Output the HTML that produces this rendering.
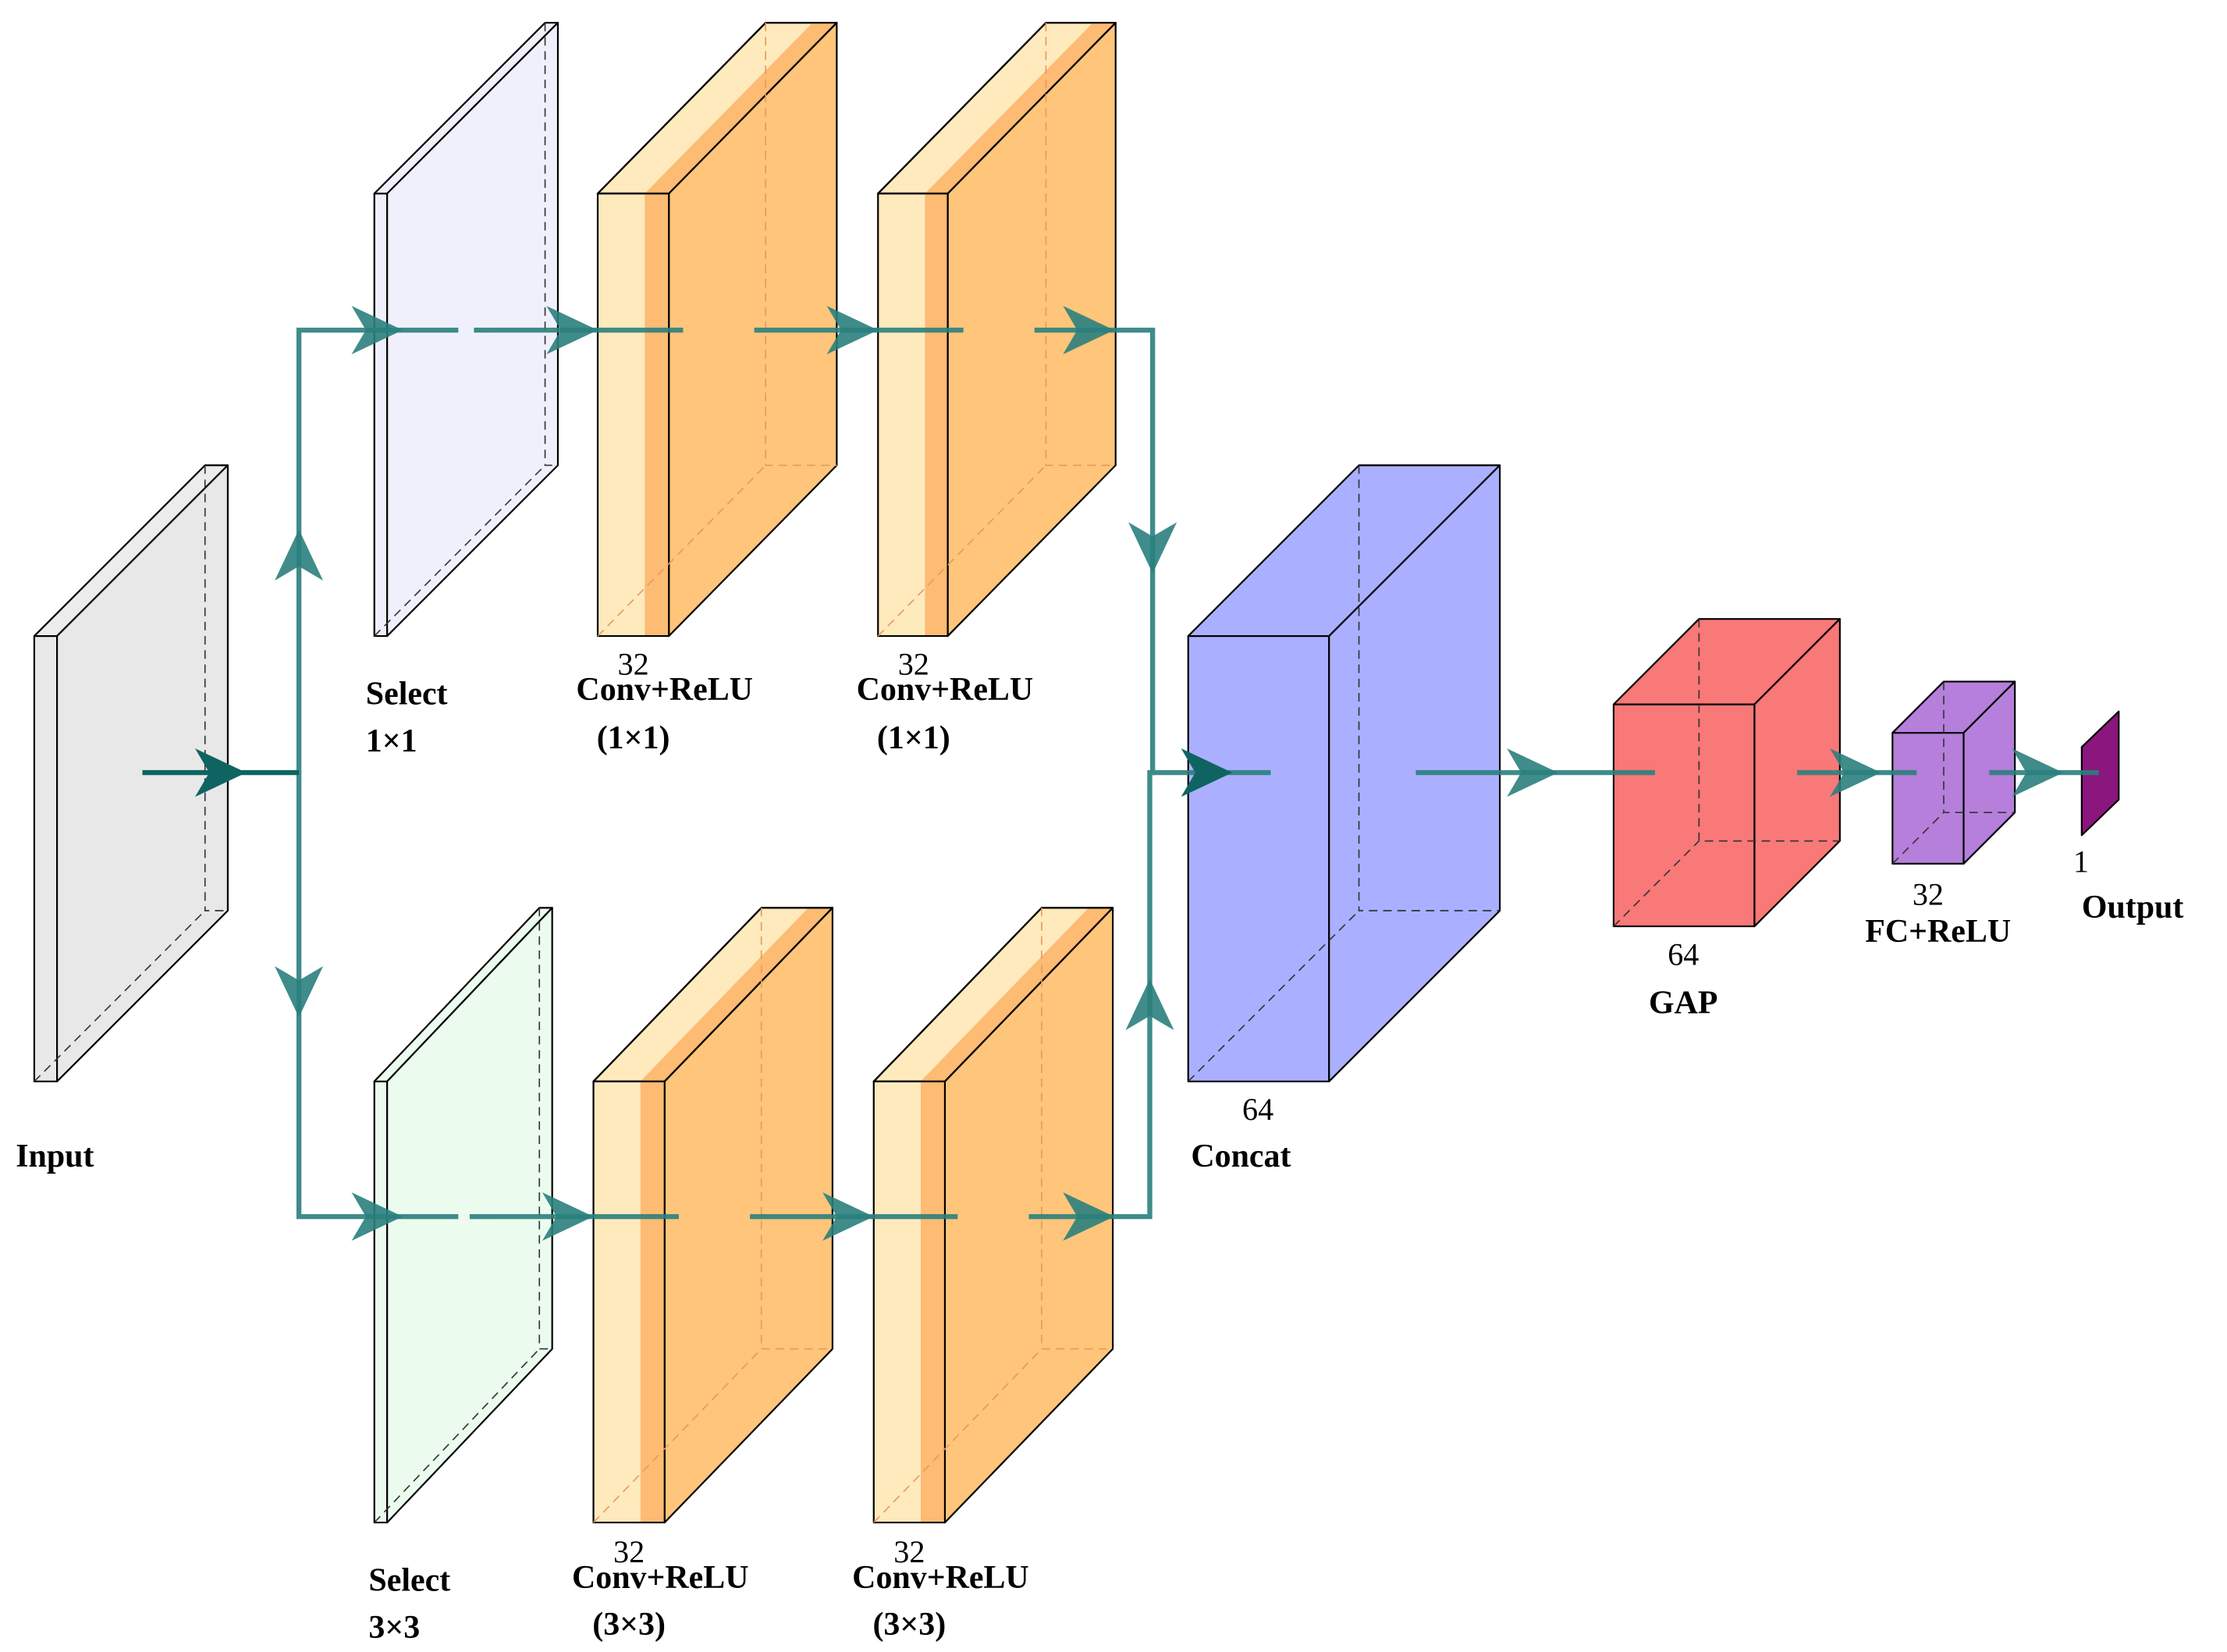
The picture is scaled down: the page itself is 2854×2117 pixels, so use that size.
<!DOCTYPE html>
<html><head><meta charset="utf-8"><style>
html,body{margin:0;padding:0;background:#fff;}
svg{display:block;}
text{font-family:"Liberation Serif",serif;fill:#000;}
.b{font-weight:bold;font-size:23px;}
.n{font-size:22px;}
</style></head><body>
<svg width="2854" height="2117" viewBox="0 0 1565 1161" xmlns="http://www.w3.org/2000/svg">
<g stroke="#000" stroke-width="1.2" stroke-linejoin="round">
<!-- Input -->
<rect x="24" y="447" width="16" height="313" fill="#e8e8e8"/>
<polygon points="24,447 40,447 160,327 144,327" fill="#ececec"/>
<polygon points="40,447 160,327 160,640 40,760" fill="#e8e8e8"/>
<!-- Select 1x1 -->
<rect x="263" y="136" width="9" height="311" fill="#f0f0fc"/>
<polygon points="263,136 272,136 392,16 383,16" fill="#f0f0fc"/>
<polygon points="272,136 392,16 392,327 272,447" fill="#f0f0fc"/>
<!-- Select 3x3 -->
<rect x="263" y="760" width="9" height="310" fill="#ebfcef"/>
<polygon points="263,760 272,760 388,638 379,638" fill="#ebfcef"/>
<polygon points="272,760 388,638 388,948 272,1070" fill="#ebfcef"/>
<!-- Conv T1 -->
<polygon points="420,136 470,136 588,16 538,16" fill="#feeabd"/>
<polygon points="453,136 470,136 588,16 571,16" fill="#fdbb74" stroke="none"/>
<polygon points="470,136 588,16 588,327 470,447" fill="#fec57b"/>
<rect x="420" y="136" width="33" height="311" fill="#feeabd" stroke="none"/>
<rect x="453" y="136" width="17" height="311" fill="#fdbb74" stroke="none"/>
<rect x="420" y="136" width="50" height="311" fill="none"/>
<polygon points="420,136 470,136 588,16 538,16" fill="none"/>
<!-- Conv T2 -->
<polygon points="617,136 666,136 784,16 735,16" fill="#feeabd"/>
<polygon points="650,136 666,136 784,16 768,16" fill="#fdbb74" stroke="none"/>
<polygon points="666,136 784,16 784,327 666,447" fill="#fec57b"/>
<rect x="617" y="136" width="33" height="311" fill="#feeabd" stroke="none"/>
<rect x="650" y="136" width="16" height="311" fill="#fdbb74" stroke="none"/>
<rect x="617" y="136" width="49" height="311" fill="none"/>
<polygon points="617,136 666,136 784,16 735,16" fill="none"/>
<!-- Conv B1 -->
<polygon points="417,760 467,760 585,638 535,638" fill="#feeabd"/>
<polygon points="450,760 467,760 585,638 568,638" fill="#fdbb74" stroke="none"/>
<polygon points="467,760 585,638 585,948 467,1070" fill="#fec57b"/>
<rect x="417" y="760" width="33" height="310" fill="#feeabd" stroke="none"/>
<rect x="450" y="760" width="17" height="310" fill="#fdbb74" stroke="none"/>
<rect x="417" y="760" width="50" height="310" fill="none"/>
<polygon points="417,760 467,760 585,638 535,638" fill="none"/>
<!-- Conv B2 -->
<polygon points="614,760 664,760 782,638 732,638" fill="#feeabd"/>
<polygon points="647,760 664,760 782,638 765,638" fill="#fdbb74" stroke="none"/>
<polygon points="664,760 782,638 782,948 664,1070" fill="#fec57b"/>
<rect x="614" y="760" width="33" height="310" fill="#feeabd" stroke="none"/>
<rect x="647" y="760" width="17" height="310" fill="#fdbb74" stroke="none"/>
<rect x="614" y="760" width="50" height="310" fill="none"/>
<polygon points="614,760 664,760 782,638 732,638" fill="none"/>
<!-- Concat -->
<rect x="835" y="447" width="99" height="313" fill="#aab0ff"/>
<polygon points="835,447 934,447 1054,327 955,327" fill="#aab0ff"/>
<polygon points="934,447 1054,327 1054,640 934,760" fill="#aab0ff"/>
<!-- GAP -->
<rect x="1134" y="495" width="99" height="156" fill="#f97878"/>
<polygon points="1134,495 1233,495 1293,435 1194,435" fill="#f97878"/>
<polygon points="1233,495 1293,435 1293,591 1233,651" fill="#f97878"/>
<!-- FC -->
<rect x="1330" y="515" width="50" height="92" fill="#b67fdb"/>
<polygon points="1330,515 1380,515 1416,479 1366,479" fill="#b67fdb"/>
<polygon points="1380,515 1416,479 1416,571 1380,607" fill="#b67fdb"/>
<!-- Output -->
<polygon points="1463,525 1489,500 1489,562 1463,587" fill="#8a167e"/>
</g>
<!-- dashed hidden edges -->
<g fill="none" stroke="#333" stroke-width="0.9" stroke-dasharray="6,4">
<polyline points="144,327 144,640 160,640"/><line x1="24" y1="760" x2="144" y2="640"/>
<polyline points="383,16 383,327 392,327"/><line x1="263" y1="447" x2="383" y2="327"/>
<polyline points="379,638 379,948 388,948"/><line x1="263" y1="1070" x2="379" y2="948"/>
<polyline points="955,327 955,640 1054,640"/><line x1="835" y1="760" x2="955" y2="640"/>
<polyline points="1194,435 1194,591 1293,591"/><line x1="1134" y1="651" x2="1194" y2="591"/>
<polyline points="1366,479 1366,571 1416,571"/><line x1="1330" y1="607" x2="1366" y2="571"/>
</g>
<g fill="none" stroke="#e89a5a" stroke-width="0.9" stroke-dasharray="6,4">
<polyline points="538,16 538,327 588,327"/><line x1="420" y1="447" x2="538" y2="327"/>
<polyline points="735,16 735,327 784,327"/><line x1="617" y1="447" x2="735" y2="327"/>
<polyline points="535,638 535,948 585,948"/><line x1="417" y1="1070" x2="535" y2="948"/>
<polyline points="732,638 732,948 782,948"/><line x1="614" y1="1070" x2="732" y2="948"/>
</g>
<!-- connectors -->
<g stroke="#2a7f7d" stroke-width="3.5" fill="none" opacity="0.9">
<polyline points="322,232 210,232 210,855 322,855"/>
<line x1="333" y1="232" x2="480" y2="232"/><line x1="530" y1="232" x2="677" y2="232"/>
<polyline points="727,232 810,232 810,543 808,543"/>
<line x1="330" y1="855" x2="477" y2="855"/><line x1="527" y1="855" x2="673" y2="855"/>
<polyline points="723,855 808,855 808,543 893,543"/>
<line x1="995" y1="543" x2="1163" y2="543"/>
<line x1="1263" y1="543" x2="1347" y2="543"/>
<line x1="1398" y1="543" x2="1475" y2="543"/>
</g>
<line x1="100" y1="543" x2="210" y2="543" stroke="#0f6462" stroke-width="3.5"/>
<g fill="#2a7f7d" opacity="0.9">
<polygon points="283,232 247,215 257,232 247,249"/>
<polygon points="420,232 384,215 394,232 384,249"/>
<polygon points="617,232 581,215 591,232 581,249"/>
<polygon points="783,232 747,215 757,232 747,249"/>
<polygon points="283,855 247,838 257,855 247,872"/>
<polygon points="417,855 381,838 391,855 381,872"/>
<polygon points="614,855 578,838 588,855 578,872"/>
<polygon points="783,855 747,838 757,855 747,872"/>
<polygon points="810,403 793,367 810,377 827,367"/>
<polygon points="808,688 791,724 808,714 825,724"/>
<polygon points="210,372 193,408 210,398 227,408"/>
<polygon points="210,715 193,679 210,689 227,679"/>
<polygon points="1095,543 1059,526 1069,543 1059,560"/>
<polygon points="1322,543 1286,526 1296,543 1286,560"/>
<polygon points="1450,543 1414,526 1424,543 1414,560"/>
</g>
<g fill="#0f6462">
<polygon points="173,543 137,526 147,543 137,560"/>
<polygon points="866,543 830,526 840,543 830,560"/>
</g>
<!-- labels -->
<text class="b" x="11" y="820">Input</text>
<text class="b" x="257" y="495">Select</text>
<text class="b" x="257" y="528">1×1</text>
<text class="n" x="445" y="474" text-anchor="middle">32</text>
<text class="b" x="467" y="492" text-anchor="middle">Conv+ReLU</text>
<text class="b" x="445" y="526" text-anchor="middle">(1×1)</text>
<text class="n" x="642" y="474" text-anchor="middle">32</text>
<text class="b" x="664" y="492" text-anchor="middle">Conv+ReLU</text>
<text class="b" x="642" y="526" text-anchor="middle">(1×1)</text>
<text class="b" x="259" y="1118">Select</text>
<text class="b" x="259" y="1151">3×3</text>
<text class="n" x="442" y="1098" text-anchor="middle">32</text>
<text class="b" x="464" y="1116" text-anchor="middle">Conv+ReLU</text>
<text class="b" x="442" y="1149" text-anchor="middle">(3×3)</text>
<text class="n" x="639" y="1098" text-anchor="middle">32</text>
<text class="b" x="661" y="1116" text-anchor="middle">Conv+ReLU</text>
<text class="b" x="639" y="1149" text-anchor="middle">(3×3)</text>
<text class="n" x="884" y="787" text-anchor="middle">64</text>
<text class="b" x="837" y="820">Concat</text>
<text class="n" x="1183" y="678" text-anchor="middle">64</text>
<text class="b" x="1183" y="712" text-anchor="middle">GAP</text>
<text class="n" x="1355" y="636" text-anchor="middle">32</text>
<text class="b" x="1362" y="662" text-anchor="middle">FC+ReLU</text>
<text class="n" x="1457" y="613">1</text>
<text class="b" x="1463" y="645">Output</text>
</svg>
</body></html>
